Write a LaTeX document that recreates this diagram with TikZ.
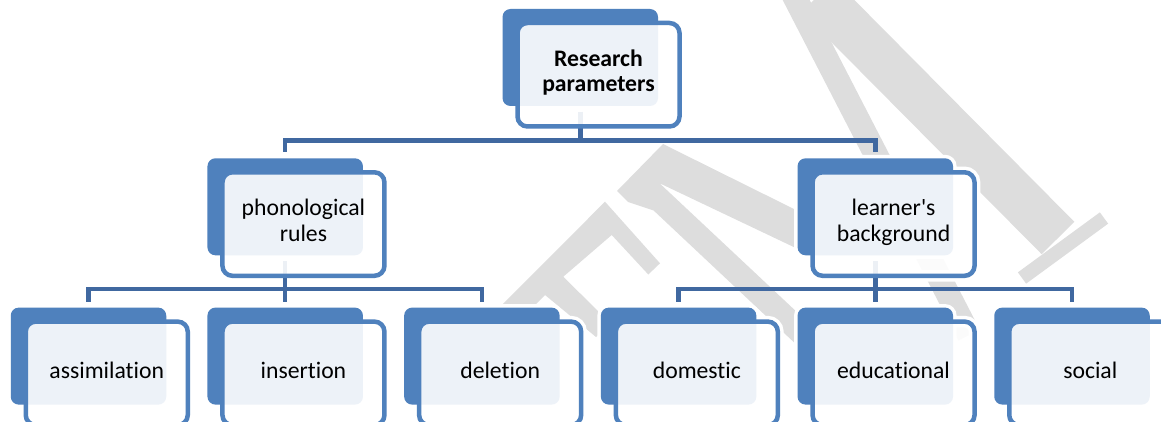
\documentclass[tikz,border=0pt]{standalone}
\usepackage{fontspec}
\setmainfont{Carlito}[Ligatures=NoCommon]
\definecolor{boxblue}{RGB}{79,129,189}
\definecolor{linkblue}{RGB}{64,104,160}
\definecolor{wmgray}{RGB}{221,221,221}
\newcommand{\sq}{\XeTeXglyph\XeTeXcharglyph"27\relax}
\pgfdeclarelayer{wm}
\pgfdeclarelayer{halo}
\pgfdeclarelayer{links}
\pgfsetlayers{wm,halo,links,main}

\begin{document}
\begin{tikzpicture}[
    x=1pt, y=1pt,
    backbox/.style={rectangle, rounded corners=8pt, fill=boxblue, inner sep=0pt, outer sep=0pt, minimum width=155.5pt, minimum height=97pt},
    frontbox/.style={rectangle, rounded corners=10pt, draw=boxblue, line width=4.5pt, fill=white, fill opacity=0.9, text opacity=1,
      inner sep=0pt, outer sep=0pt, minimum width=162pt, minimum height=103.5pt, align=center,
      font=\fontsize{23.7}{25.5}\selectfont, execute at begin node=\strut, execute at end node=\strut},
    link/.style={draw=linkblue, line width=4.5pt},
    halo/.style={draw=white, line width=#1},
    wm/.style={wmgray, line cap=butt}
]
  \useasboundingbox (0,0) rectangle (1161,421);

  % Level 0
  \node[backbox] (bRP) at (580.25,363.5) {};
  \node[frontbox, font=\fontsize{23.7}{25.5}\selectfont\bfseries] (RP) at (598.5,346.25) {Research\\parameters};

  % Level 1
  \node[backbox] (bPR) at (285.2,214.2) {};
  \node[frontbox] (PR) at (303.45,196.95) {phonological\\rules};
  \node[backbox] (bLB) at (875.3,214.2) {};
  \node[frontbox] (LB) at (893.55,196.95) {learner\sq s\\background};

  % Level 2
  \node[backbox] (bAS) at (88.5,64.9) {};
  \node[frontbox] (AS) at (106.75,47.65) {assimilation};
  \node[backbox] (bIN) at (285.2,64.9) {};
  \node[frontbox] (IN) at (303.45,47.65) {insertion};
  \node[backbox] (bDE) at (481.9,64.9) {};
  \node[frontbox] (DE) at (500.15,47.65) {deletion};
  \node[backbox] (bDO) at (678.6,64.9) {};
  \node[frontbox] (DO) at (696.85,47.65) {domestic};
  \node[backbox] (bED) at (875.3,64.9) {};
  \node[frontbox] (ED) at (893.55,47.65) {educational};
  \node[backbox] (bSO) at (1072,64.9) {};
  \node[frontbox] (SO) at (1090.25,47.65) {social};

  % Connectors
  \begin{pgfonlayer}{links}
    \draw[link] ([yshift=-6pt]bRP.south) -- ++(0,-28.7) -| ([yshift=6pt]bPR.north);
    \draw[link] ([yshift=-6pt]bRP.south) -- ++(0,-28.7) -| ([yshift=6pt]bLB.north);
    \draw[link] ([yshift=-6pt]bPR.south) -- ++(0,-27.7) -| ([yshift=6pt]bAS.north);
    \draw[link] ([yshift=-6pt]bPR.south) -- ++(0,-27.7) -| ([yshift=6pt]bIN.north);
    \draw[link] ([yshift=-6pt]bPR.south) -- ++(0,-27.7) -| ([yshift=6pt]bDE.north);
    \draw[link] ([yshift=-6pt]bLB.south) -- ++(0,-27.7) -| ([yshift=6pt]bDO.north);
    \draw[link] ([yshift=-6pt]bLB.south) -- ++(0,-27.7) -| ([yshift=6pt]bED.north);
    \draw[link] ([yshift=-6pt]bLB.south) -- ++(0,-27.7) -| ([yshift=6pt]bSO.north);
  \end{pgfonlayer}

  % White rims round the boxes
  \begin{pgfonlayer}{halo}
    \foreach \n in {RP,PR,LB,AS,IN,DE,DO,ED,SO} {
      \draw[halo=7pt, rounded corners=8pt] (b\n.south west) rectangle (b\n.north east);
      \draw[halo=11.5pt, rounded corners=10pt] (\n.south west) rectangle (\n.north east);
    }
  \end{pgfonlayer}

  % Watermark
  \begin{pgfonlayer}{wm}
    \fill[wm] (480,94) -- (605,219.3) -- (660,157.7) -- (648.3,146.5) -- (611.7,186) -- (563.3,144.3)
      -- (610,98) -- (596,84) -- (545,126) -- (495,76) -- cycle;
    \fill[wm] (617,230) -- (663,277) -- (800,209) -- (800,171) -- (659.5,237.8) -- (800,106)
      -- (800,73) -- (653.6,210.5) -- (628,219) -- cycle;
    \draw[wm, line width=24pt] (791,431) -- (969,86);
    \draw[wm, line width=46pt] (818,425) -- (1058,183);
    \draw[wm, line width=14pt] (1022,143) -- (1104,203);
  \end{pgfonlayer}
\end{tikzpicture}
\end{document}
